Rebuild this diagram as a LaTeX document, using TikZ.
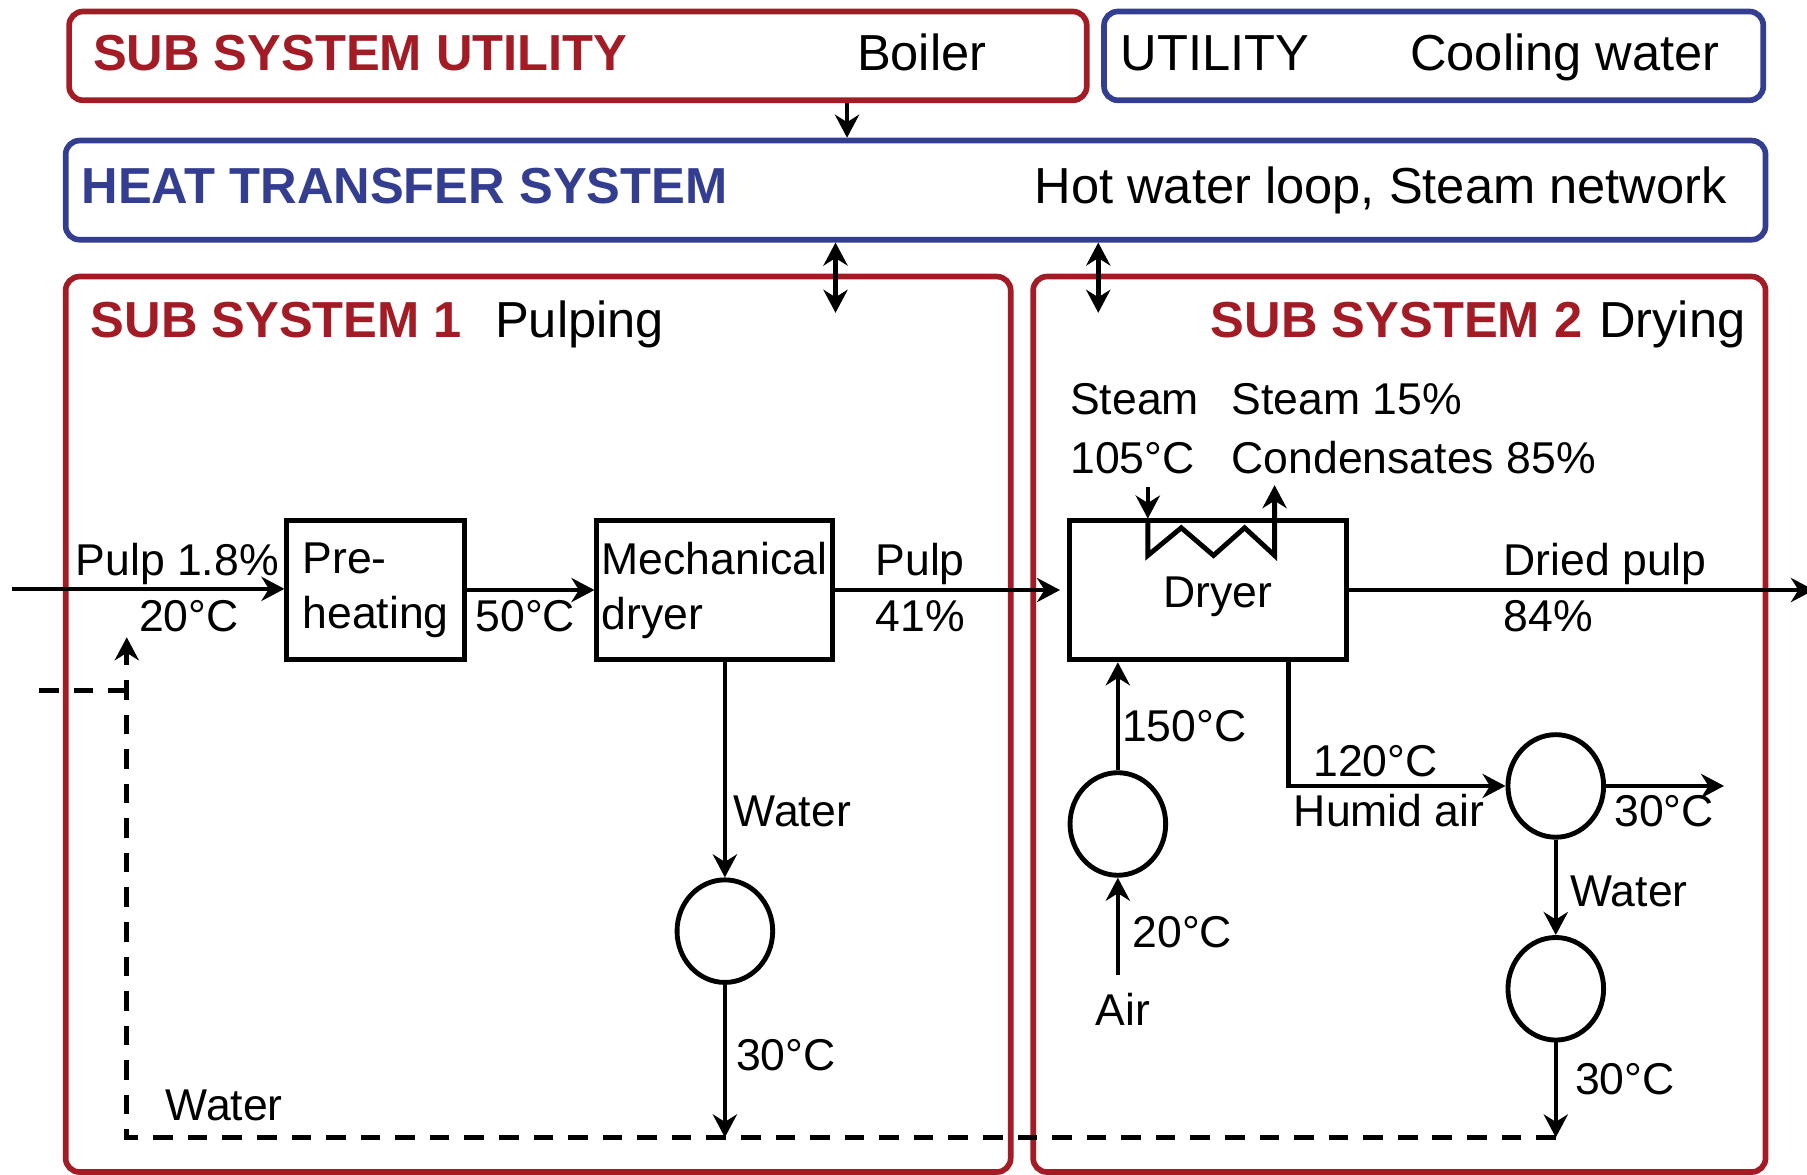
\documentclass[tikz,border=0pt]{standalone}
\usepackage{fontspec}
\setmainfont{Liberation Sans}
\usetikzlibrary{arrows.meta,shapes.geometric}
\definecolor{sysred}{RGB}{163,27,36}
\definecolor{sysblue}{RGB}{52,62,145}

\begin{document}
\begin{tikzpicture}[>={Stealth[length=2mm,width=2.1mm]},
  frame/.style={draw=#1,line width=1.4pt,rounded corners=1.2mm,inner sep=0},
  unit/.style={draw,line width=1.25pt,align=left,inner sep=0,minimum height=1.21cm,font=\fontsize{11}{13.6}\selectfont},
  hx/.style={draw,ellipse,line width=1.2pt,inner sep=0,minimum width=0.83cm,minimum height=0.89cm},
  lbl/.style={anchor=base west,inner sep=0,font=\fontsize{11}{13.6}\selectfont},
  head/.style={anchor=base west,inner sep=0,font=\fontsize{12.5}{15}\selectfont},
  flow/.style={->,line width=1.1pt},
  ret/.style={line width=1.2pt,dash pattern=on 1.7mm off 1.3mm}]
  \useasboundingbox (0,0) rectangle (15.68,10.19);
  % system frames
  \node[frame=sysred,minimum width=8.83cm,minimum height=0.77cm] (util) at (5.015,9.705) {};
  \node[frame=sysblue,minimum width=5.72cm,minimum height=0.77cm] (cool) at (12.44,9.705) {};
  \node[frame=sysblue,minimum width=14.75cm,minimum height=0.86cm] (hts) at (7.945,8.54) {};
  \node[frame=sysred,minimum width=8.20cm,minimum height=7.77cm] (ssone) at (4.67,3.905) {};
  \node[frame=sysred,minimum width=6.355cm,minimum height=7.77cm] (sstwo) at (12.1425,3.905) {};
  \node[head,text=sysred] (utiltitle) at (0.80,9.58) {\bfseries SUB SYSTEM UTILITY};
  \node[head] (boiler) at (7.43,9.58) {Boiler};
  \node[head] (cooltitle) at (9.72,9.58) {UTILITY};
  \node[head] (coolwater) at (12.23,9.58) {Cooling water};
  \node[head,text=sysblue] (htstitle) at (0.70,8.42) {\bfseries HEAT TRANSFER SYSTEM};
  \node[head] (htsnet) at (8.97,8.42) {Hot water loop, Steam network};
  \node[head,text=sysred] (ssonetitle) at (0.78,7.26) {\bfseries SUB SYSTEM 1};
  \node[head] (pulping) at (4.29,7.26) {Pulping};
  \node[head,text=sysred] (sstwotitle) at (10.50,7.26) {\bfseries SUB SYSTEM 2};
  \node[head] (drying) at (13.87,7.26) {Drying};
  % links between systems
  \coordinate (ua) at (7.35,0);
  \coordinate (ha) at (7.25,0);
  \coordinate (hb) at (9.53,0);
  \draw[flow] (ua |- util.south) -- (ua |- hts.north);
  \draw[flow,<->] (ha |- hts.south) -- ++(0,-0.61);
  \draw[flow,<->] (hb |- hts.south) -- ++(0,-0.61);
  % process units
  \node[unit,minimum width=1.54cm] (preheat) at (3.26,5.07) {Pre-\\heating};
  \node[unit,minimum width=2.04cm] (mdryer) at (6.20,5.07) {Mechanical\\dryer};
  \node[unit,minimum width=2.40cm] (dryer) at (10.48,5.07) {};
  \node[lbl,anchor=base] (dryertxt) at (10.565,4.92) {Dryer};
  \node[hx] (heater) at (9.70,3.04) {};
  \node[hx] (condenser) at (13.50,3.37) {};
  \node[hx] (cooltwo) at (13.50,1.61) {};
  \node[hx] (coolone) at (6.29,2.11) {};
  % free ends
  \coordinate (pulpin) at (0.10,5.08);
  \coordinate (pulpout) at (15.74,5.07);
  \coordinate (air) at (9.70,1.73);
  \coordinate (humid) at (11.18,0);
  \coordinate (exhaust) at (14.96,3.37);
  \coordinate (retone) at (6.29,0.32);
  \coordinate (rettwo) at (13.50,0.32);
  \coordinate (retcorner) at (1.10,0.32);
  \coordinate (rettop) at (1.10,4.66);
  \coordinate (retstub) at (0.34,4.20);
  % flows
  \draw[flow] (pulpin) -- (pulpin -| preheat.west);
  \draw[flow] (preheat) -- (mdryer);
  \draw[flow,shorten >=0.6mm] (mdryer) -- (dryer);
  \draw[flow] (dryer) -- (pulpout);
  \draw[flow] (air) -- (heater);
  \draw[flow] (heater) -- (heater |- dryer.south);
  \draw[flow] (humid |- dryer.south) |- (condenser);
  \draw[flow] (condenser) -- (exhaust);
  \draw[flow] (condenser) -- (cooltwo);
  \draw[flow] (cooltwo) -- (rettwo);
  \draw[flow] (coolone |- mdryer.south) -- (coolone);
  \draw[flow] (coolone) -- (retone);
  \draw[ret,->] (rettwo) -- (retcorner) -- (rettop);
  \draw[ret] (retstub) -- (retstub -| retcorner);
  % steam coil
  \draw[flow] (9.96,5.96) -- (9.96,5.69);
  \draw[flow,line width=1.2pt] (9.96,5.67) -- (9.96,5.37) -- (10.25,5.61) -- (10.53,5.37)
    -- (10.80,5.61) -- (11.06,5.37) -- (11.06,5.98);
  % stream labels
  \node[lbl] (pulpa) at (0.65,5.20) {Pulp 1.8\%};
  \node[lbl] (pulpat) at (1.20,4.71) {20°C};
  \node[lbl] (pulpbt) at (4.12,4.71) {50°C};
  \node[lbl] (pulpc) at (7.59,5.20) {Pulp};
  \node[lbl] (pulpcx) at (7.59,4.71) {41\%};
  \node[lbl] (steamin) at (9.28,6.59) {Steam};
  \node[lbl] (steamint) at (9.28,6.08) {105°C};
  \node[lbl] (steamout) at (10.68,6.59) {Steam 15\%};
  \node[lbl] (condout) at (10.68,6.08) {Condensates 85\%};
  \node[lbl] (dried) at (13.04,5.20) {Dried pulp};
  \node[lbl] (driedx) at (13.04,4.71) {84\%};
  \node[lbl] (hotair) at (9.73,3.76) {150°C};
  \node[lbl] (airt) at (9.82,1.97) {20°C};
  \node[lbl] (airlbl) at (9.50,1.29) {Air};
  \node[lbl] (humidt) at (11.39,3.45) {120°C};
  \node[lbl] (humidlbl) at (11.22,3.02) {Humid air};
  \node[lbl] (exhaustt) at (14.00,3.02) {30°C};
  \node[lbl] (watertwo) at (13.62,2.32) {Water};
  \node[lbl] (rettwot) at (13.66,0.69) {30°C};
  \node[lbl] (waterone) at (6.36,3.02) {Water};
  \node[lbl] (retonet) at (6.38,0.90) {30°C};
  \node[lbl] (retlbl) at (1.43,0.47) {Water};
\end{tikzpicture}
\end{document}
